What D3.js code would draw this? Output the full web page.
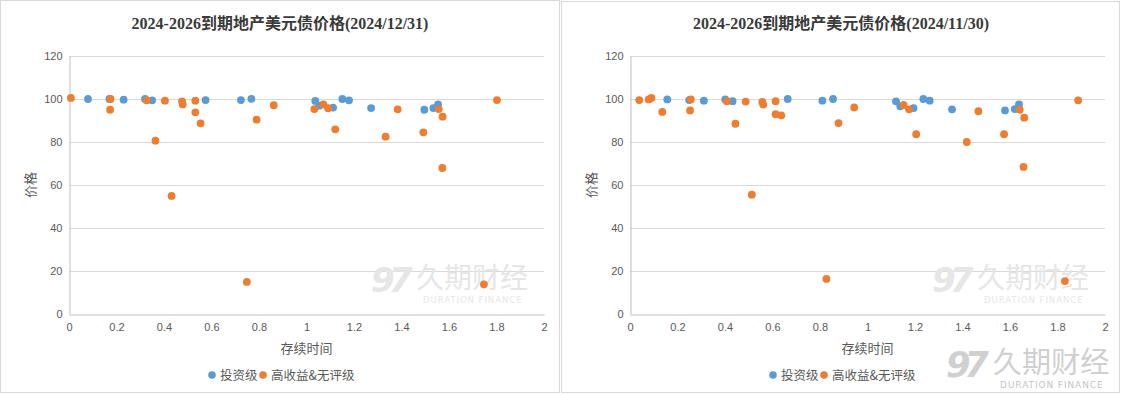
<!DOCTYPE html>
<html><head><meta charset="utf-8">
<script src="https://cdn.jsdelivr.net/npm/d3@7"></script>
<style>body{margin:0;background:#fff}svg{display:block}</style>
</head><body>
<svg id="c" width="1121" height="395"></svg>
<script>
const titleDec = "2024-2026到期地产美元债价格(2024/12/31)";
const titleNov = "2024-2026到期地产美元债价格(2024/11/30)";
const xTicks = [0,0.2,0.4,0.6,0.8,1,1.2,1.4,1.6,1.8,2];
const yTicks = [0,20,40,60,80,100,120];
const seriesNames = ["投资级","高收益&无评级"];
const xTitle = "存续时间";
const yTitle = "价格";

const decInvGrade = [[0.08,100],[0.17,100],[0.23,99.7],[0.32,100],[0.35,99.4],[0.575,99.5],[0.724,99.5],[0.768,100.1],[1.037,99.1],[1.053,96.9],[1.112,96],[1.151,100],[1.179,99.4],[1.272,95.8],[1.496,95],[1.534,95.8],[1.554,97.5]];
const decHighYield = [[0.008,100.5],[0.175,100],[0.173,95],[0.327,99.4],[0.364,80.6],[0.404,99.2],[0.432,54.9],[0.476,98.9],[0.479,97.5],[0.532,99.2],[0.532,93.8],[0.554,88.7],[0.749,14.9],[0.79,90.4],[0.862,97.1],[1.033,95.3],[1.071,97.5],[1.091,95.7],[1.121,85.9],[1.333,82.5],[1.384,95.2],[1.492,84.5],[1.557,95.3],[1.573,91.8],[1.572,67.9],[1.747,13.8],[1.802,99.5]];
const novInvGrade = [[0.157,99.8],[0.249,99.5],[0.311,99.2],[0.401,99.8],[0.432,99],[0.664,100],[0.81,99.2],[0.855,100],[1.12,98.9],[1.138,96.6],[1.194,95.8],[1.235,100],[1.262,99.2],[1.356,95.2],[1.579,94.7],[1.62,95.3],[1.638,97.5]];
const novHighYield = [[0.039,99.5],[0.079,99.8],[0.09,100.5],[0.136,94],[0.256,99.8],[0.253,94.7],[0.408,99],[0.444,88.5],[0.487,98.8],[0.513,55.5],[0.557,98.6],[0.561,97.4],[0.613,99],[0.613,92.9],[0.637,92.4],[0.827,16.3],[0.878,88.8],[0.944,96.1],[1.152,97.2],[1.175,95.2],[1.205,83.6],[1.418,80],[1.467,94.3],[1.575,83.6],[1.641,95],[1.66,91.3],[1.657,68.4],[1.831,15.3],[1.887,99.4]];

const colors = ["#5B9BD5","#ED7D31"];
const svg = d3.select("#c");
const cjk = "'Noto Sans CJK SC','Noto Sans',sans-serif";

function watermark(g, x, y, scale, col, col2){
  const w = g.append("g").attr("transform",`translate(${x},${y}) scale(${scale})`);
  w.append("text").attr("x",0).attr("y",0).attr("font-family","'DejaVu Sans',sans-serif")
    .attr("font-style","italic").attr("font-weight","bold").attr("font-size",34)
    .attr("fill",col).attr("letter-spacing",-6).text("97");
  w.append("text").attr("x",45).attr("y",-4).attr("font-family",cjk).attr("font-size",28)
    .attr("fill",col).attr("letter-spacing",0).text("久期财经");
  w.append("text").attr("x",52).attr("y",11).attr("font-family","'DejaVu Sans',sans-serif").attr("font-size",8.6)
    .attr("fill",col2).attr("letter-spacing",0.9).text("DURATION FINANCE");
}

function drawChart(ox, oy, w, h, title, inv, hy){
  const g = svg.append("g").attr("transform",`translate(${ox},${oy})`);
  g.append("rect").attr("x",0.5).attr("y",0.5).attr("width",w-1).attr("height",h-1)
    .attr("fill","#fff").attr("stroke","#d9d9d9");
  const x = d3.scaleLinear().domain([0,2]).range([69,544]);
  const y = d3.scaleLinear().domain([0,120]).range([314-oy,56-oy]);
  g.append("text").attr("x",280).attr("y",29-oy).attr("text-anchor","middle")
    .attr("font-family","'Liberation Serif','Noto Sans CJK SC',serif").attr("font-weight","bold")
    .attr("font-size",16).attr("fill","#3a3a3a").text(title);
  g.append("g").selectAll("line").data(yTicks.filter(d=>d>0)).join("line")
    .attr("x1",69).attr("x2",544).attr("y1",d=>Math.round(y(d))+0.5).attr("y2",d=>Math.round(y(d))+0.5)
    .attr("stroke","#d9d9d9");
  watermark(g, 371, 292-oy, 1, "#e6e6e6", "#e6e6e6");
  const yAx = g.append("g").attr("transform",`translate(${69.5},0)`)
    .call(d3.axisLeft(y).tickValues(yTicks).tickSize(0).tickPadding(7));
  yAx.select(".domain").attr("stroke","#bfbfbf");
  const xAx = g.append("g").attr("transform",`translate(0,${Math.round(y(0))+0.5})`)
    .call(d3.axisBottom(x).tickValues(xTicks).tickSize(0).tickPadding(9).tickFormat(d3.format("~g")));
  xAx.select(".domain").attr("stroke","#bfbfbf");
  g.selectAll(".tick text").attr("font-family","'Liberation Sans','Noto Sans',sans-serif")
    .attr("font-size",11).attr("fill","#595959");
  g.append("text").attr("x",306.5).attr("y",353-oy).attr("text-anchor","middle")
    .attr("font-family",cjk).attr("font-size",13).attr("fill","#595959").text(xTitle);
  g.append("text").attr("transform",`translate(35,${185-oy}) rotate(-90)`).attr("text-anchor","middle")
    .attr("font-family",cjk).attr("font-size",13).attr("fill","#595959").text(yTitle);
  [inv,hy].forEach((data,i)=>{
    g.append("g").selectAll("circle").data(data).join("circle")
      .attr("cx",d=>x(d[0])).attr("cy",d=>y(d[1])).attr("r",3.9).attr("fill",colors[i]);
  });
  const lg = g.append("g").attr("transform",`translate(0,${375-oy})`);
  const lx = [212,263];
  seriesNames.forEach((n,i)=>{
    lg.append("circle").attr("cx",lx[i]).attr("cy",0).attr("r",3.8).attr("fill",colors[i]);
    lg.append("text").attr("x",lx[i]+8).attr("y",4.5).attr("font-family",cjk).attr("font-size",12.5)
      .attr("fill","#595959").text(n);
  });
  return g;
}

drawChart(0,0,560,393,titleDec,decInvGrade,decHighYield);
drawChart(561,1,559,392,titleNov,novInvGrade,novHighYield);
watermark(svg, 946, 377, 1.04, "#d0d0d0", "#c4c4c4");
</script>
</body></html>
